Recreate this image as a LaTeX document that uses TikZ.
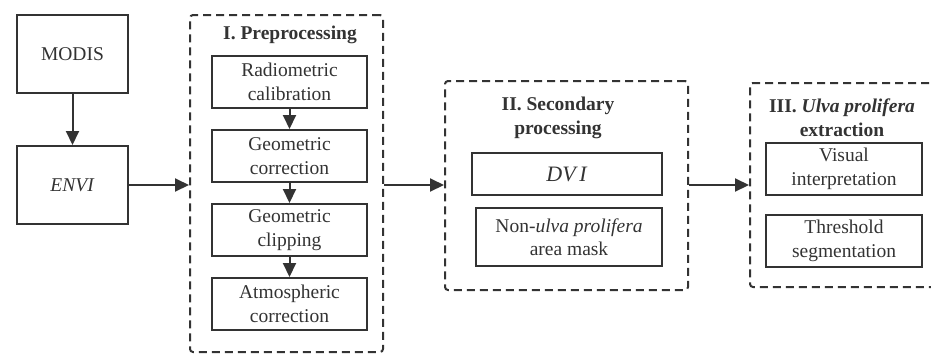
\documentclass[tikz,border=0pt]{standalone}
\usepackage{fontspec}
\setmainfont{Liberation Serif}
\usetikzlibrary{arrows.meta}
\definecolor{ink}{HTML}{333333}
\tikzset{
  box/.style={draw=ink, line width=2pt, fill=white, text=ink, align=center, inner sep=0pt,
    font=\fontsize{19.5}{23.5}\selectfont},
  group/.style={draw=ink, line width=2pt, dash pattern=on 8pt off 5pt, rounded corners=3pt, inner sep=0pt},
  title/.style={text=ink, align=center, font=\fontsize{19.5}{24}\selectfont\bfseries, inner sep=0pt},
  arr/.style={draw=ink, line width=2pt, -{Triangle[length=14pt,width=13pt]}},
}
\begin{document}
\begin{tikzpicture}[x=1pt,y=-1pt]
\useasboundingbox (0,0) rectangle (931,354);
\clip (0,0) rectangle (931,354);
% groups
\node[group, minimum width=193pt, minimum height=337pt] (g1) at (286.5,183.5) {};
\node[group, minimum width=243pt, minimum height=209pt] (g2) at (566.5,185.5) {};
\node[group, minimum width=195pt, minimum height=204pt] (g3) at (847.5,185) {};
% left boxes
\node[box, minimum width=111pt, minimum height=78pt] (modis) at (72.5,54) {MODIS};
\node[box, minimum width=111pt, minimum height=78pt] (envi) at (72.5,185) {\textit{ENVI}};
% group I
\node[title] (t1) at (290,35) {I. Preprocessing};
\node[box, minimum width=155pt, minimum height=52pt] (rc) at (289.5,82) {Radiometric\\calibration};
\node[box, minimum width=155pt, minimum height=52pt] (gc) at (289.5,156) {Geometric\\correction};
\node[box, minimum width=155pt, minimum height=52pt] (gl) at (289.5,230) {Geometric\\clipping};
\node[box, minimum width=155pt, minimum height=52pt] (ac) at (289.5,304) {Atmospheric\\correction};
% group II
\node[title] (t2) at (558,118) {II. Secondary\\processing};
\node[box, minimum width=190pt, minimum height=42pt, font=\fontsize{22}{24}\selectfont] (dvi) at (567,174) {\textit{DV\,I}};
\node[box, minimum width=186pt, minimum height=58pt] (mask) at (569,237) {Non-\textit{ulva prolifera}\\area mask};
% group III
\node[title] (t3) at (842,118) {III. \textit{Ulva prolifera}\\extraction};
\node[box, minimum width=156pt, minimum height=52pt] (vis) at (844,169) {Visual\\interpretation};
\node[box, minimum width=156pt, minimum height=52pt] (thr) at (844,241) {Threshold\\segmentation};
% arrows
\draw[arr] (modis) -- (envi);
\draw[arr] (envi.east) -- (envi.east -| g1.west);
\draw[arr] (rc) -- (gc);
\draw[arr] (gc) -- (gl);
\draw[arr] (gl) -- (ac);
\draw[arr] (envi.east -| g1.east) -- (envi.east -| g2.west);
\draw[arr] (envi.east -| g2.east) -- (envi.east -| g3.west);
\end{tikzpicture}
\end{document}
